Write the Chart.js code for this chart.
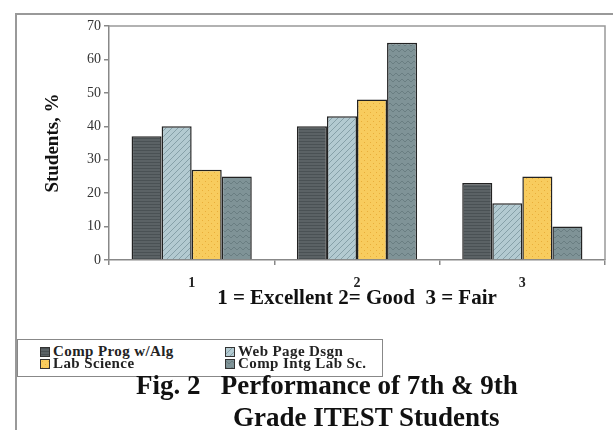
<!DOCTYPE html>
<html>
<head>
<meta charset="utf-8" />
<title>Fig. 2 Performance of 7th & 9th Grade ITEST Students</title>
<script src="https://cdn.jsdelivr.net/npm/chart.js"></script>
<style>
  body { margin:0; padding:0; background:#fff; }
  #wrap { position:relative; width:613px; height:430px; overflow:hidden; font-family:"Liberation Serif", serif; }
  #frame { position:absolute; left:15px; top:13px; width:620px; height:430px; border-left:2px solid #999; border-top:2px solid #999; }
  #chart { position:absolute; left:0; top:0; }
  #legend {
    position:absolute; left:17px; top:339px; width:364px; height:36px;
    border:1.5px solid #888; background:#fff;
    font-weight:bold; font-size:15px; letter-spacing:0.4px; color:#222; line-height:12px;
  }
  .item { position:absolute; white-space:nowrap; }
  .item canvas { vertical-align:-1px; margin-right:3px; border:1px solid #333; }
  #caption {
    position:absolute; left:0; top:370px; width:613px;
    font-weight:bold; font-size:27px; color:#111; white-space:pre; line-height:30px;
  }
  #caption div { position:absolute; }
</style>
</head>
<body>
<div id="wrap">
  <div id="frame"></div>
  <canvas id="chart" width="613" height="330"></canvas>
  <div id="legend"></div>
  <div id="caption">
    <div style="left:136px; top:0;">Fig. 2   Performance of 7th &amp; 9th</div>
    <div style="left:233px; top:32px;">Grade ITEST Students</div>
  </div>
</div>
<script>
const categories = ['1', '2', '3'];
const seriesNames = ['Comp Prog w/Alg', 'Web Page Dsgn', 'Lab Science', 'Comp Intg Lab Sc.'];
const compProg = [37, 40, 23];
const webPage = [40, 43, 17];
const labScience = [27, 48, 25];
const compIntg = [25, 65, 10];
const yTicks = [0, 10, 20, 30, 40, 50, 60, 70];

// little textures, roughly like the old excel fills
function makePattern(kind) {
  const c = document.createElement('canvas');
  c.width = 6; c.height = 6;
  const g = c.getContext('2d');
  if (kind === 0) {
    g.fillStyle = '#5b6265'; g.fillRect(0, 0, 6, 6);
    g.fillStyle = '#4a5154'; g.fillRect(0, 0, 6, 1); g.fillRect(0, 3, 6, 1);
  } else if (kind === 1) {
    g.fillStyle = '#b3cad1'; g.fillRect(0, 0, 6, 6);
    g.strokeStyle = '#86a0a8'; g.lineWidth = 1;
    g.beginPath(); g.moveTo(0, 6); g.lineTo(6, 0); g.moveTo(-3, 3); g.lineTo(3, -3); g.moveTo(3, 9); g.lineTo(9, 3); g.stroke();
  } else if (kind === 2) {
    g.fillStyle = '#f8cc5e'; g.fillRect(0, 0, 6, 6);
    g.fillStyle = '#e9ae3a'; g.fillRect(1, 1, 1, 1); g.fillRect(4, 4, 1, 1);
  } else {
    g.fillStyle = '#7f9397'; g.fillRect(0, 0, 6, 6);
    g.strokeStyle = '#6a7e82'; g.lineWidth = 1;
    g.beginPath(); g.moveTo(0, 1); g.lineTo(3, 4); g.lineTo(6, 1); g.stroke();
  }
  return g.createPattern(c, 'repeat');
}

const patterns = [0, 1, 2, 3].map(makePattern);
const seriesValues = [compProg, webPage, labScience, compIntg];

const plotBorder = {
  id: 'plotBorder',
  afterDraw(chart) {
    const a = chart.chartArea, ctx = chart.ctx;
    ctx.save();
    ctx.strokeStyle = '#999';
    ctx.lineWidth = 1.5;
    ctx.beginPath();
    ctx.moveTo(a.left, a.top);
    ctx.lineTo(a.right, a.top);
    ctx.lineTo(a.right, a.bottom);
    ctx.stroke();
    ctx.restore();
  }
};

new Chart(document.getElementById('chart'), {
  type: 'bar',
  data: {
    labels: categories,
    datasets: seriesNames.map((name, i) => ({
      label: name,
      data: seriesValues[i],
      backgroundColor: patterns[i],
      borderColor: '#222',
      borderWidth: 1.5,
      categoryPercentage: 0.727,
      barPercentage: 1
    }))
  },
  options: {
    responsive: false,
    animation: false,
    events: [],
    layout: { padding: { top: 26, right: 8, left: 0, bottom: 0 } },
    plugins: { legend: { display: false }, tooltip: { enabled: false } },
    scales: {
      x: {
        afterFit: s => { s.height = 70; },
        grid: { offset: true, drawOnChartArea: false, tickLength: 5, color: '#888', lineWidth: 1.5 },
        border: { color: '#888', width: 1.5 },
        ticks: { color: '#222', padding: 10, font: { family: 'Liberation Serif', size: 14, weight: 'bold' } },
        title: {
          display: true,
          text: '1 = Excellent 2= Good  3 = Fair',
          color: '#111',
          font: { family: 'Liberation Serif', size: 21, weight: 'bold' },
          padding: { top: 0, bottom: 19 }
        }
      },
      y: {
        min: 0, max: 70,
        afterFit: s => { s.width = 109; },
        afterBuildTicks: s => { s.ticks = yTicks.map(v => ({ value: v })); },
        grid: { drawOnChartArea: false, tickLength: 5, color: '#888', lineWidth: 1.5 },
        border: { color: '#888', width: 1.5 },
        ticks: { color: '#333', padding: 3, font: { family: 'Liberation Serif', size: 14 } },
        title: {
          display: true,
          text: 'Students, %',
          color: '#111',
          font: { family: 'Liberation Serif', size: 19, weight: 'bold' },
          padding: { top: 42, bottom: 0 }
        }
      }
    }
  },
  plugins: [plotBorder]
});

// legend, two columns like the original
const legend = document.getElementById('legend');
const spots = [[22, 5], [207, 5], [22, 17], [207, 17]];
seriesNames.forEach((name, i) => {
  const it = document.createElement('div');
  it.className = 'item';
  it.style.left = spots[i][0] + 'px';
  it.style.top = spots[i][1] + 'px';
  const sw = document.createElement('canvas');
  sw.width = 8; sw.height = 8;
  const g = sw.getContext('2d');
  g.fillStyle = patterns[i]; g.fillRect(0, 0, 8, 8);
  it.appendChild(sw);
  it.appendChild(document.createTextNode(name));
  legend.appendChild(it);
});
</script>
</body>
</html>
